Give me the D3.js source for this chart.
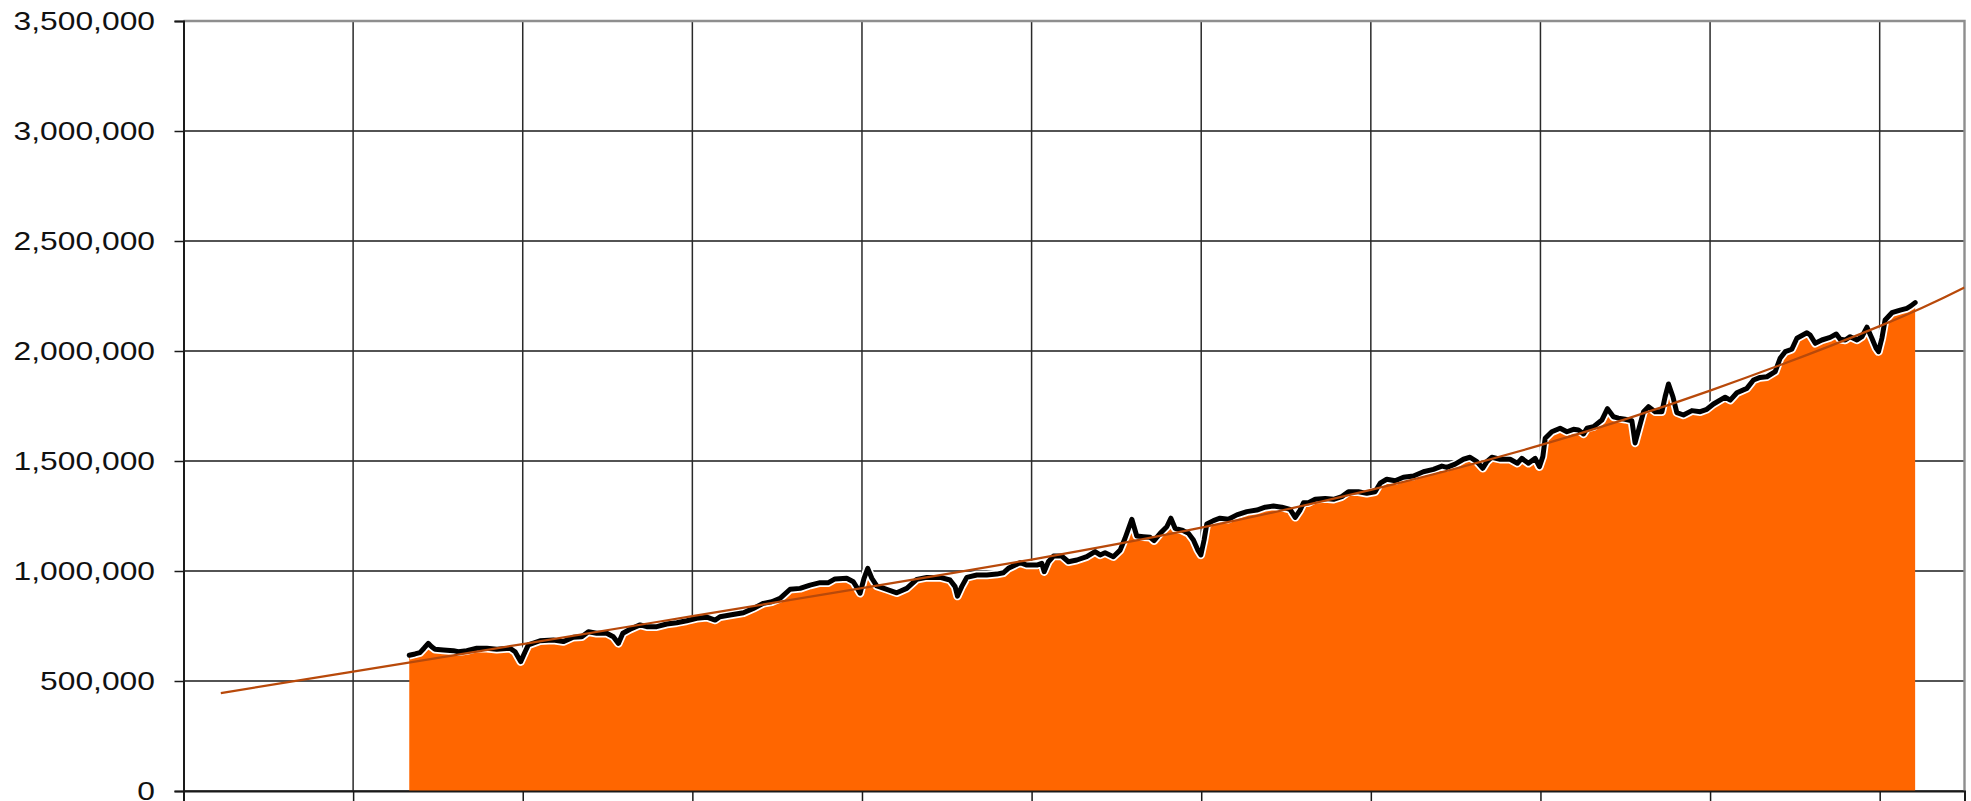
<!DOCTYPE html>
<html><head><meta charset="utf-8">
<script src="https://cdn.jsdelivr.net/npm/d3@7"></script>
<style>html,body{margin:0;padding:0;background:#fff;}svg{display:block;}</style>
</head><body>
<svg id="chart" width="1971" height="801"></svg>
<script>
// ---- data ----
const periods = [1.331,1.365,1.394,1.418,1.443,1.463,1.483,1.532,1.591,1.620,1.670,1.729,1.788,1.847,1.925,1.955,1.988,2.014,2.033,2.102,2.180,2.239,2.298,2.348,2.387,2.436,2.495,2.534,2.564,2.590,2.633,2.692,2.731,2.790,2.849,2.908,2.967,3.026,3.085,3.134,3.163,3.222,3.301,3.360,3.419,3.468,3.517,3.576,3.635,3.694,3.753,3.802,3.841,3.910,3.949,3.969,3.989,4.012,4.034,4.058,4.087,4.146,4.205,4.264,4.323,4.382,4.461,4.519,4.549,4.563,4.588,4.618,4.677,4.736,4.795,4.834,4.863,4.932,4.972,5.031,5.060,5.074,5.099,5.129,5.178,5.217,5.267,5.325,5.374,5.404,5.433,5.482,5.522,5.551,5.591,5.620,5.659,5.699,5.722,5.758,5.797,5.821,5.846,5.886,5.925,5.954,5.980,5.998,6.017,6.033,6.072,6.111,6.160,6.210,6.269,6.328,6.377,6.426,6.475,6.524,6.554,6.583,6.603,6.632,6.672,6.731,6.780,6.829,6.868,6.927,6.976,7.025,7.055,7.094,7.143,7.192,7.251,7.310,7.369,7.419,7.448,7.497,7.546,7.585,7.625,7.660,7.684,7.713,7.762,7.821,7.864,7.890,7.929,7.969,7.994,8.014,8.028,8.067,8.116,8.156,8.195,8.224,8.254,8.274,8.313,8.362,8.395,8.430,8.460,8.499,8.539,8.558,8.584,8.608,8.637,8.676,8.716,8.735,8.755,8.781,8.804,8.843,8.893,8.942,8.981,9.020,9.089,9.119,9.158,9.217,9.256,9.295,9.335,9.384,9.413,9.443,9.482,9.512,9.571,9.590,9.620,9.659,9.708,9.744,9.767,9.797,9.826,9.866,9.895,9.925,9.954,9.979,9.993,10.013,10.032,10.072,10.121,10.160,10.184,10.209];
const values = [617000,623000,629000,649000,671000,656000,644000,641000,638000,633000,638000,649000,649000,644000,649000,633000,588000,633000,664000,683000,686000,679000,699000,701000,724000,717000,717000,701000,671000,717000,735000,755000,747000,747000,759000,765000,774000,785000,790000,777000,792000,800000,810000,830000,853000,860000,876000,917000,921000,936000,947000,947000,964000,967000,951000,926000,899000,967000,1012000,967000,932000,917000,901000,921000,962000,971000,971000,959000,929000,886000,929000,971000,982000,982000,986000,992000,1012000,1038000,1027000,1027000,1035000,997000,1042000,1068000,1068000,1042000,1050000,1065000,1088000,1073000,1083000,1065000,1095000,1149000,1235000,1159000,1156000,1153000,1138000,1171000,1201000,1240000,1194000,1186000,1171000,1141000,1095000,1073000,1141000,1214000,1229000,1240000,1235000,1255000,1270000,1277000,1290000,1295000,1290000,1280000,1244000,1277000,1310000,1310000,1326000,1330000,1326000,1338000,1360000,1360000,1353000,1360000,1399000,1417000,1410000,1426000,1432000,1451000,1462000,1477000,1471000,1486000,1508000,1517000,1497000,1467000,1497000,1517000,1508000,1508000,1490000,1512000,1490000,1512000,1474000,1520000,1603000,1633000,1649000,1633000,1644000,1641000,1623000,1649000,1656000,1686000,1738000,1701000,1695000,1690000,1683000,1582000,1656000,1724000,1747000,1724000,1724000,1792000,1850000,1792000,1720000,1709000,1729000,1724000,1735000,1759000,1790000,1777000,1810000,1830000,1868000,1880000,1883000,1906000,1967000,1997000,2008000,2058000,2083000,2073000,2035000,2050000,2062000,2077000,2053000,2050000,2065000,2050000,2065000,2108000,2058000,2012000,1997000,2058000,2141000,2174000,2186000,2194000,2205000,2220000];
const trendPeriods = [0.22, 1, 2, 3, 4, 5, 6, 7, 8, 9, 10, 10.5];
const trendValues  = [445000, 543000, 668000, 795000, 922000, 1052000, 1197000, 1369000, 1572000, 1820000, 2113000, 2289000];
const yTicks = [0, 500000, 1000000, 1500000, 2000000, 2500000, 3000000, 3500000];
const xTicks = [0, 1, 2, 3, 4, 5, 6, 7, 8, 9, 10];

// ---- layout ----
const L = 183.5, R = 1964.5, T = 21, B = 791;
const svg = d3.select("#chart");
const x = d3.scaleLinear().domain([0, 10.5]).range([L, R]);
const y = d3.scaleLinear().domain([0, 3500000]).range([B, T]);
const data = periods.map((p, i) => ({p, v: values[i]}));
const trend = trendPeriods.map((p, i) => ({p, v: trendValues[i]}));

svg.append("defs").append("clipPath").attr("id", "clip")
  .append("rect").attr("x", L).attr("y", T).attr("width", R - L).attr("height", B - T);

// gridlines
svg.append("g").selectAll("line").data(yTicks).join("line")
  .attr("x1", L).attr("x2", R).attr("y1", d => y(d)).attr("y2", d => y(d))
  .attr("stroke", "#1a1a1a").attr("stroke-width", 1.5);
svg.append("g").selectAll("line").data(xTicks.slice(1)).join("line")
  .attr("x1", d => x(d)).attr("x2", d => x(d)).attr("y1", T).attr("y2", B)
  .attr("stroke", "#2a2a2a").attr("stroke-width", 1.5);

// plot border (top / right)
svg.append("path")
  .attr("d", `M${L},${T}H${R}V${B}`)
  .attr("fill", "none").attr("stroke", "#8e8e8e").attr("stroke-width", 2.4);

const plot = svg.append("g").attr("clip-path", "url(#clip)");

// area
plot.append("path").datum(data)
  .attr("d", d3.area().x(d => x(d.p)).y0(y(0)).y1(d => y(d.v)))
  .attr("fill", "#FF6600");
// white border along the area's top
plot.append("path").datum(data)
  .attr("d", d3.line().x(d => x(d.p)).y(d => y(d.v)))
  .attr("fill", "none").attr("stroke", "#fff").attr("stroke-width", 8.5)
  .attr("stroke-linejoin", "round");
// black line
plot.append("path").datum(data)
  .attr("d", d3.line().x(d => x(d.p)).y(d => y(d.v)))
  .attr("fill", "none").attr("stroke", "#000").attr("stroke-width", 5)
  .attr("stroke-linejoin", "round").attr("stroke-linecap", "round");
// trend line
plot.append("path").datum(trend)
  .attr("d", d3.line().curve(d3.curveNatural).x(d => x(d.p)).y(d => y(d.v)))
  .attr("fill", "none").attr("stroke", "#B8490A").attr("stroke-width", 2.2);

// axes
const yAxis = svg.append("g").attr("transform", `translate(${L},0)`)
  .call(d3.axisLeft(y).tickValues(yTicks).tickSize(9).tickPadding(0).tickFormat(d3.format(",")));
yAxis.select(".domain").attr("stroke", "#1a1a1a").attr("stroke-width", 2);
yAxis.selectAll(".tick line").attr("stroke", "#1a1a1a").attr("stroke-width", 1.5);
yAxis.selectAll(".tick text")
  .attr("x", 0)
  .attr("transform", `translate(${155 - L},0) scale(1.2,1)`)
  .attr("fill", "#111")
  .style("font-family", "'Liberation Sans', Arial, sans-serif")
  .style("font-size", "26.5px");

const xAxis = svg.append("g").attr("transform", `translate(0,${B})`)
  .call(d3.axisBottom(x).tickValues(xTicks).tickSize(12).tickFormat(""));
xAxis.select(".domain").attr("stroke", "#1a1a1a").attr("stroke-width", 2);
xAxis.selectAll(".tick line").attr("stroke", "#1a1a1a").attr("stroke-width", 1.5);
</script>
</body></html>
